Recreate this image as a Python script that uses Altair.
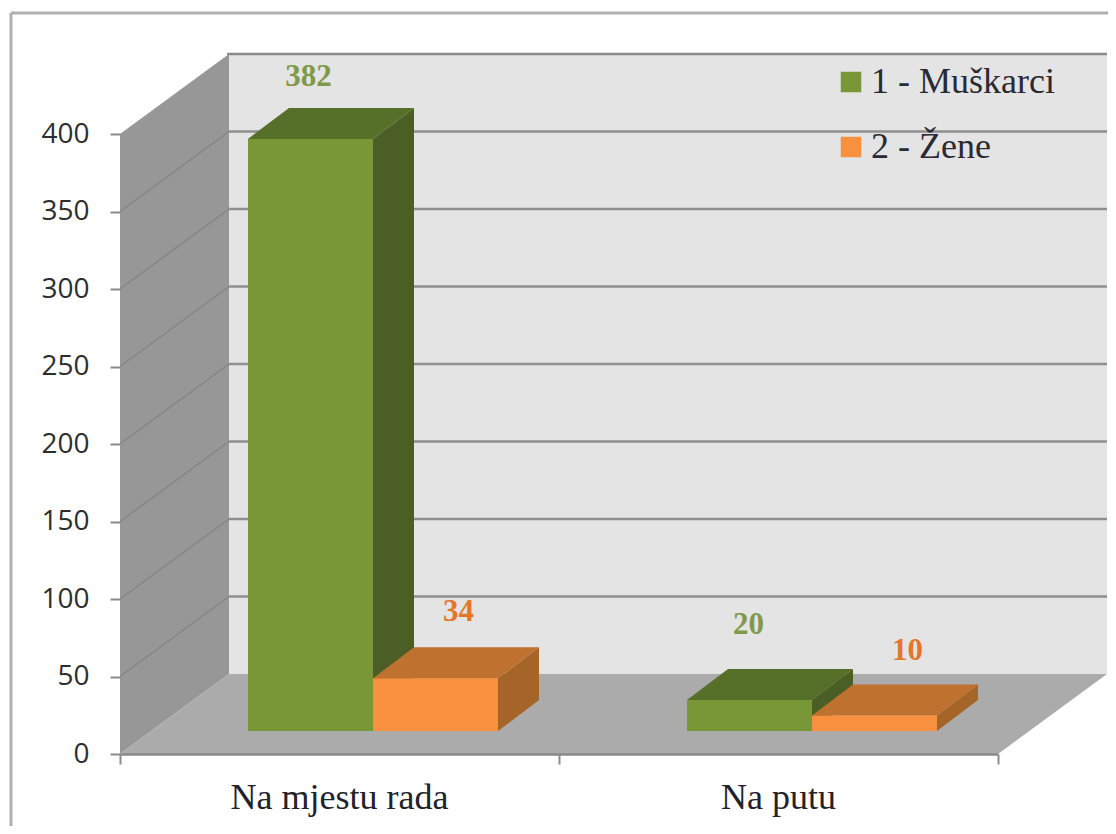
import altair as alt
import pandas as pd

categories = ["Na mjestu rada", "Na putu"]
series = ["1 - Muškarci", "2 - Žene"]
men = [382, 20]
women = [34, 10]
y_ticks = [0, 50, 100, 150, 200, 250, 300, 350, 400]

# colours: front, top, side, label
GREEN = ("#7A9738", "#56702A", "#4A5E25", "#7F9A48")
ORANGE = ("#F79140", "#BF7130", "#A56428", "#E3762B")

# oblique projection of the 3D box, in data units
PX_X, PX_Y = 439.0, 1.55
WALL_DX, WALL_DY = 109 / PX_X, 80 / PX_Y
BAR_DX, BAR_DY = 41 / PX_X, 31 / PX_Y
BASE = 23 / PX_Y
BAR_W = 125 / PX_X
BAR_START = 128 / PX_X
LABEL_LIFT = 65 / PX_Y

X = alt.Scale(domain=[0, 2], nice=False, zero=False)
Y = alt.Scale(domain=[0, 400], nice=False, zero=False)
X_AXIS = alt.Axis(
    values=[0, 1, 2], labels=False, grid=False, title=None, domainColor="#8A8A8A", domainWidth=2.5,
    tickColor="#8A8A8A", tickWidth=2, tickSize=10, zindex=1,
)
Y_AXIS = alt.Axis(
    values=y_ticks, grid=False, title=None, domain=False, tickColor="#8A8A8A", tickWidth=2, tickSize=10,
    labelFont="Open Sans", labelFontSize=28, labelColor="#2E2E2E", labelPadding=21, zindex=1,
)
xe = lambda f: alt.X(f"{f}:Q", scale=X, axis=X_AXIS)
ye = lambda f: alt.Y(f"{f}:Q", scale=Y, axis=Y_AXIS)


def rect(x0, x1, y0, y1, color):
    return alt.Chart(pd.DataFrame([{"x": x0, "x2": x1, "y": y0, "y2": y1}])).mark_rect(
        color=color, clip=False
    ).encode(x=xe("x"), x2="x2:Q", y=ye("y"), y2="y2:Q")


def side_face(x0, x1, y0a, y1a, y0b, y1b, color):
    df = pd.DataFrame([{"x": x0, "y": y0a, "y2": y1a}, {"x": x1, "y": y0b, "y2": y1b}])
    return alt.Chart(df).mark_area(color=color, clip=False, opacity=1).encode(
        x=xe("x"), y=ye("y"), y2="y2:Q"
    )


def flat_face(x0, x1, y0, dx, dy, color):
    df = pd.DataFrame([{"x": x0, "x2": x1, "y": y0}, {"x": x0 + dx, "x2": x1 + dx, "y": y0 + dy}])
    return alt.Chart(df).mark_area(color=color, orient="horizontal", clip=False, opacity=1).encode(
        x=xe("x"), x2="x2:Q", y=ye("y")
    )


def segment(x0, y0, x1, y1, color, width):
    df = pd.DataFrame([{"x": x0, "y": y0}, {"x": x1, "y": y1}])
    return alt.Chart(df).mark_line(color=color, strokeWidth=width, clip=False).encode(
        x=xe("x"), y=ye("y")
    )


layers = []

# chart frame
layers.append(segment(-109 / PX_X, -47, -109 / PX_X, 741 / PX_Y, "#B0B0B0", 3))
layers.append(segment(-109 / PX_X, 741 / PX_Y, 988 / PX_X, 741 / PX_Y, "#B0B0B0", 3))

# back wall, floor and left wall
layers.append(rect(WALL_DX - 2 / PX_X, 2 + WALL_DX, WALL_DY, 400 + WALL_DY, "#E4E4E4"))
layers.append(segment(WALL_DX - 2 / PX_X, 400 + WALL_DY, 2 + WALL_DX, 400 + WALL_DY, "#8A8A8A", 2.5))
for v in y_ticks[1:-1]:
    layers.append(segment(WALL_DX, v + WALL_DY, 2 + WALL_DX, v + WALL_DY, "#8F8F8F", 2.5))
layers.append(side_face(0, WALL_DX, 0, 400, WALL_DY, 400 + WALL_DY, "#979797"))
for v in y_ticks[1:-1]:
    layers.append(segment(0, v, WALL_DX, v + WALL_DY, "#858585", 1.5))
layers.append(flat_face(0, 2, 0, WALL_DX, WALL_DY, "#ABABAB"))

# bars, green before orange so that orange covers the green side
for s, (vals, col) in enumerate(((men, GREEN), (women, ORANGE))):
    for c, v in enumerate(vals):
        x0 = c + BAR_START + s * BAR_W
        x1 = x0 + BAR_W
        top = BASE + v
        layers.append(side_face(x1, x1 + BAR_DX, BASE, top, BASE + BAR_DY, top + BAR_DY, col[2]))
        layers.append(flat_face(x0, x1, top, BAR_DX, BAR_DY, col[1]))

front = pd.DataFrame(
    [
        {
            "series": series[s],
            "x": c + BAR_START + s * BAR_W,
            "x2": c + BAR_START + (s + 1) * BAR_W,
            "y": BASE,
            "y2": BASE + v,
        }
        for s, vals in enumerate((men, women))
        for c, v in enumerate(vals)
    ]
)
layers.append(
    alt.Chart(front).mark_rect(clip=False).encode(
        x=xe("x"), x2="x2:Q", y=ye("y"), y2="y2:Q",
        color=alt.Color(
            "series:N",
            scale=alt.Scale(domain=series, range=[GREEN[0], ORANGE[0]]),
            legend=alt.Legend(
                title=None, orient="none", legendX=713, legendY=-70, padding=0,
                symbolType="square", symbolSize=420, symbolStrokeWidth=0,
                labelFont="Liberation Serif", labelFontSize=36, labelColor="#2A2A33",
                labelLimit=400, labelOffset=2, rowPadding=29,
            ),
        ),
    )
)

# value labels
nudge_x = [[-2 / PX_X, -1 / PX_X], [23 / PX_X, 33 / PX_X]]
nudge_y = [[-3 / PX_Y, 10 / PX_Y], [1 / PX_Y, 0]]
labels = pd.DataFrame(
    [
        {
            "text": str(v),
            "color": col[3],
            "x": c + BAR_START + (s + 0.5) * BAR_W + nudge_x[s][c],
            "y": BASE + v + LABEL_LIFT + nudge_y[s][c],
        }
        for s, (vals, col) in enumerate(((men, GREEN), (women, ORANGE)))
        for c, v in enumerate(vals)
    ]
)
layers.append(
    alt.Chart(labels).mark_text(
        font="Liberation Serif", fontSize=31, fontWeight="bold", align="center", baseline="middle", clip=False
    ).encode(x=xe("x"), y=ye("y"), text="text:N", color=alt.Color("color:N", scale=None, legend=None))
)

# category labels
cats = pd.DataFrame({"text": categories, "x": [0.5, 1.5], "y": [-44 / PX_Y] * 2})
layers.append(
    alt.Chart(cats).mark_text(
        font="Liberation Serif", fontSize=36, color="#22222A", align="center", baseline="middle", clip=False
    ).encode(x=xe("x"), y=ye("y"), text="text:N")
)

chart = (
    alt.layer(*layers)
    .resolve_scale(color="independent")
    .properties(
        width=878,
        height=620,
        padding={"left": 112, "top": 126, "right": 110, "bottom": 72},
        autosize=alt.AutoSizeParams(type="none"),
        background="white",
    )
    .configure_view(stroke=None)
)
chart.save("out.html", embed_options={"renderer": "svg", "actions": False})
